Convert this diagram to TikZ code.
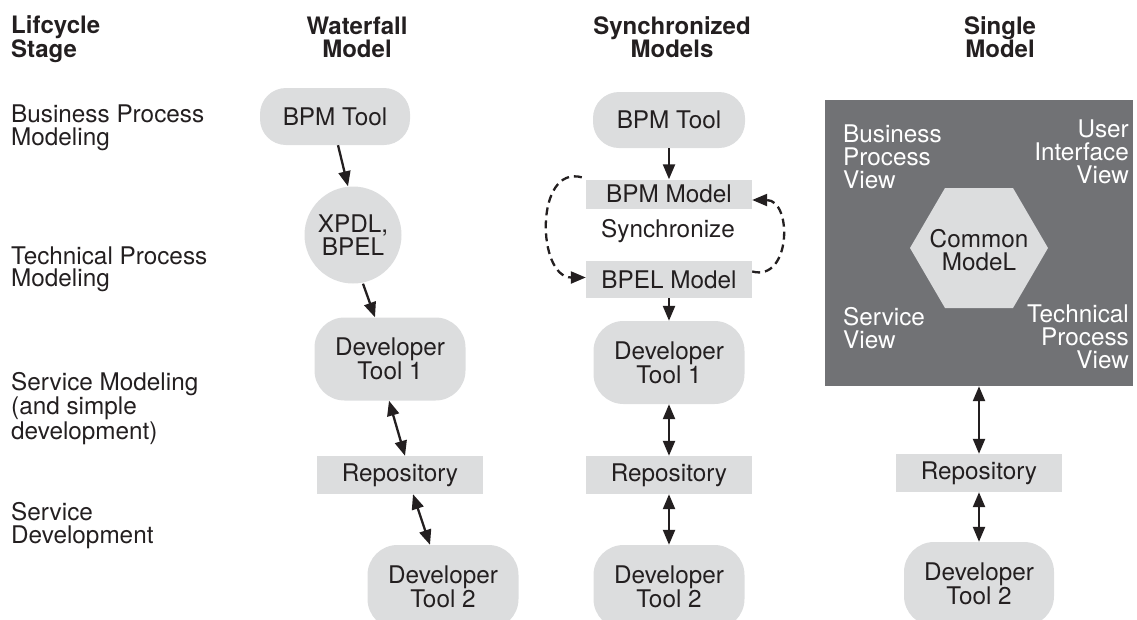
\documentclass[tikz,border=0pt]{standalone}
\usepackage{fontspec}
\setmainfont{TeX Gyre Heros}
\usetikzlibrary{arrows.meta,shapes.geometric}
\definecolor{boxgray}{RGB}{220,221,222}
\definecolor{darkbg}{RGB}{113,114,117}
\definecolor{ink}{RGB}{35,31,32}
\begin{document}
\begin{tikzpicture}[x=1pt,y=-1pt,
  txt/.style={font=\fontsize{24.3}{22.5}\selectfont, text=ink, inner sep=0pt, align=left},
  wtxt/.style={font=\fontsize{24.3}{23}\selectfont, text=white, inner sep=0pt},
  hdr/.style={font=\fontsize{24}{23}\selectfont\bfseries, text=ink, inner sep=0pt},
  toolbox/.style={fill=boxgray, text=ink, inner sep=0pt, align=center,
     font=\fontsize{24.3}{22.5}\selectfont},
  pill/.style={toolbox, rounded corners=26pt},
  devbox/.style={toolbox, rounded corners=30pt, minimum width=151pt, minimum height=83pt},
  flatbox/.style={toolbox, minimum width=166pt, minimum height=38pt},
  tip/.style={-{Triangle[length=15pt,width=12pt]}},
  arr/.style={draw=ink, line width=2.3pt, tip},
  darr/.style={draw=ink, line width=2.3pt, {Triangle[length=15pt,width=12pt]}-{Triangle[length=15pt,width=12pt]}},
  dsh/.style={draw=ink, line width=2.3pt, dash pattern=on 8pt off 5pt, tip}
]
\useasboundingbox (0,0) rectangle (1137,619);
\clip (0,0) rectangle (1137,619);

% headers
\node[hdr, anchor=base west, align=left] (hlife) at (11,57.5) {Lifcycle\\Stage};
\node[hdr, anchor=base, align=center] (hwat) at (357,57.5) {Waterfall\\Model};
\node[hdr, anchor=base, align=center] (hsyn) at (672,57.5) {Synchronized\\Models};
\node[hdr, anchor=base, align=center] (hsin) at (1000,57.5) {Single\\Model};

% lifecycle stages
\node[txt, anchor=base west] (l1) at (11,145) {Business Process\\Modeling};
\node[txt, anchor=base west] (l2) at (11,286.5) {Technical Process\\Modeling};
\node[txt, anchor=base west] (l3) at (11,439) {Service Modeling\\(and simple\\development)};
\node[txt, anchor=base west] (l4) at (11,543) {Service\\Development};

% waterfall column
\node[pill, minimum width=150pt, minimum height=57pt] (wbpm) at (335,116.5) {BPM Tool};
\node[toolbox, circle, minimum size=97pt] (wxpdl) at (353,235) {XPDL,\\BPEL};
\node[devbox] (wdev1) at (390,359) {Developer\\Tool 1};
\node[flatbox] (wrepo) at (400,475) {Repository};
\node[devbox, minimum height=84pt] (wdev2) at (443,587) {Developer\\Tool 2};

\draw[arr] ([xshift=3pt]wbpm.south) -- ([xshift=-5pt]wxpdl.north);
\draw[arr] ([xshift=10pt]wxpdl.south) -- ([xshift=-15pt]wdev1.north);
\draw[darr] ([xshift=-1pt]wdev1.south) -- ([xshift=5pt]wrepo.north);
\draw[darr] ([xshift=13pt]wrepo.south) -- ([xshift=-13pt]wdev2.north);

% synchronized column
\node[pill, minimum width=152pt, minimum height=56pt] (sbpm) at (669,120) {BPM Tool};
\node[flatbox, minimum height=29pt] (sbpmm) at (669,194) {BPM Model};
\node[txt, anchor=base] (ssync) at (668,237) {Synchronize};
\node[flatbox, minimum height=37pt] (sbpel) at (669,279.5) {BPEL Model};
\node[devbox] (sdev1) at (669,362.5) {Developer\\Tool 1};
\node[flatbox] (srepo) at (669,475) {Repository};
\node[devbox, minimum height=84pt] (sdev2) at (669,587) {Developer\\Tool 2};

\draw[arr] (sbpm.south) -- (sbpmm.north);
\draw[arr] (sbpel.south) -- (sdev1.north);
\draw[darr] (sdev1.south) -- (srepo.north);
\draw[darr] (srepo.south) -- (sdev2.north);

\coordinate (ls) at ([shift={(-4pt,2pt)}]sbpmm.north west);
\coordinate (le) at ([yshift=2pt]sbpel.west);
\coordinate (rs) at ([yshift=8pt]sbpel.east);
\coordinate (re) at ([yshift=-6pt]sbpmm.east);
\draw[dsh] (ls) to[out=165, in=180, looseness=1.25] (le);
\draw[dsh] (rs) to[out=-15, in=0, looseness=1.45] (re);

% single model column
\node[fill=darkbg, minimum width=308pt, minimum height=286pt, inner sep=0pt] (sbg) at (979,243) {};
\coordinate (hexc) at (979,248);
\fill[boxgray] ([xshift=-69pt]hexc) -- ([shift={(-34pt,-60pt)}]hexc) -- ([shift={(34pt,-60pt)}]hexc)
   -- ([xshift=69pt]hexc) -- ([shift={(34pt,60pt)}]hexc) -- ([shift={(-34pt,60pt)}]hexc) -- cycle;
\node[toolbox, fill=none] (hex) at (979,250) {Common\\ModeL};
\node[wtxt, anchor=base west, align=left] (vbp) at (843,188) {Business\\Process\\View};
\node[wtxt, anchor=base east, align=right] (vui) at (1129,183) {User\\Interface\\View};
\node[wtxt, anchor=base west, align=left] (vsv) at (843,348) {Service\\View};
\node[wtxt, anchor=base east, align=right] (vtp) at (1129,368) {Technical\\Process\\View};

\node[flatbox] (grepo) at (979,473) {Repository};
\node[devbox, minimum width=150pt, minimum height=84pt] (gdev2) at (979,584) {Developer\\Tool 2};
\draw[darr] (sbg.south) -- (grepo.north);
\draw[darr] (grepo.south) -- (gdev2.north);
\end{tikzpicture}
\end{document}
